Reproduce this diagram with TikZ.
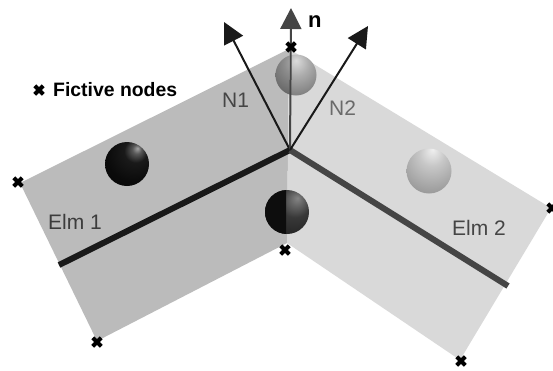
\documentclass[tikz,border=0pt]{standalone}
\usepackage{fontspec}
\setmainfont{Liberation Sans}
\usetikzlibrary{shapes.misc,arrows.meta}
\definecolor{panelL}{gray}{0.735}
\definecolor{panelR}{gray}{0.85}
\definecolor{darkink}{gray}{0.27}
\definecolor{ink}{gray}{0.1}
\pgfdeclareradialshading{balldark}{\pgfpoint{12bp}{18bp}}{color(0bp)=(black!35!white);color(5bp)=(black!65!white);color(13bp)=(black!90!white);color(30bp)=(black!96!white);color(70bp)=(black)}
\pgfdeclareradialshading{ballmid}{\pgfpoint{12bp}{16bp}}{color(0bp)=(black!48!white);color(7bp)=(black!60!white);color(18bp)=(black!78!white);color(40bp)=(black!88!white);color(70bp)=(black!92!white)}
\pgfdeclareradialshading{balllight}{\pgfpoint{4bp}{24bp}}{color(0bp)=(black!6!white);color(14bp)=(black!22!white);color(40bp)=(black!42!white);color(75bp)=(black!68!white)}
\pgfdeclareradialshading{balltop}{\pgfpoint{0bp}{18bp}}{color(0bp)=(black!14!white);color(15bp)=(black!32!white);color(45bp)=(black!60!white);color(72bp)=(black!80!white)}
\pgfdeclareradialshading{balltopdark}{\pgfpoint{0bp}{18bp}}{color(0bp)=(black!30!white);color(15bp)=(black!45!white);color(45bp)=(black!68!white);color(72bp)=(black!85!white)}
\tikzset{
  x=1pt,y=-1pt,
  panel/.style={draw=none},
  beam/.style={line width=6pt,line cap=butt},
  vec/.style={line width=2pt,-{Triangle[length=21pt,width=21pt]}},
  fict/.style={cross out,draw=black,line width=4pt,minimum size=8.5pt,inner sep=0pt,outer sep=0pt,line cap=butt},
  sph/.style={circle,inner sep=0pt,minimum size=#1,outer sep=0pt},
  lab/.style={font=\fontsize{21}{24}\selectfont,inner sep=0pt},
  blab/.style={font=\fontsize{19.4}{22}\selectfont\bfseries,inner sep=0pt}
}
\begin{document}
\begin{tikzpicture}
\useasboundingbox (0,0) rectangle (553,370);
\fill[white] (0,0) rectangle (553,370);
\coordinate (top) at (289,49);
\coordinate (c) at (290,150);
\coordinate (low) at (287,243);
\coordinate (tl) at (20,183);
\coordinate (bl) at (97,341);
\coordinate (tr) at (551,208);
\coordinate (br) at (460,360);
\coordinate (e1) at (59,265);
\coordinate (e2) at (508,286);
\coordinate (tn) at (291,8);
\coordinate (t1) at (224,22);
\coordinate (t2) at (368,26);
% panels
\fill[panelL,panel] (top) -- (tl) -- (bl) -- (low) -- cycle;
\fill[panelR,panel] (top) -- (tr) -- (br) -- (low) -- cycle;
% spheres
\node[sph=44pt,shading=balldark] (s1) at (127,164) {};
\node[sph=45pt,shading=balllight] (s2) at (429,171) {};
\node[sph=41pt,shading=balltop] (s3) at (296,75) {};
\begin{scope}
\clip (250,40) rectangle (289,110);
\node[sph=41pt,shading=balltopdark] at (296,75) {};
\end{scope}
\node[sph=44pt,shading=ballmid] (s4) at (287,212) {};
\begin{scope}
\clip (250,180) rectangle (286,250);
\fill[black!95!white] (287,212) circle[radius=22];
\end{scope}
% beams
\draw[beam,ink] (e1) -- (c);
\draw[beam,darkink] (e2) -- (c);
% normals
\draw[vec,ink] (c) -- (t1);
\draw[vec,darkink] (c) -- (tn);
\draw[vec,ink] (c) -- (t2);
% fictive nodes
\node[fict] (f1) at (291,47) {};
\node[fict] (f2) at (18,182) {};
\node[fict] (f3) at (285,250) {};
\node[fict] (f4) at (97,342) {};
\node[fict] (f5) at (461,361) {};
\node[fict] (f6) at (552,208) {};
\node[fict] (f7) at (39,90) {};
% labels
\node[blab,anchor=base west] (tf) at (53,96) {Fictive nodes};
\node[blab,font=\fontsize{22}{24}\selectfont\bfseries,anchor=base west] (tn2) at (308,27) {n};
\node[lab,text=darkink,anchor=base west] (tN1) at (222,107) {N1};
\node[lab,text=darkink!80!white,anchor=base west] (tN2) at (329,115) {N2};
\node[lab,text=ink!85!white,anchor=base west] (tE1) at (48,229) {Elm 1};
\node[lab,text=darkink,anchor=base west] (tE2) at (452,235) {Elm 2};
\end{tikzpicture}
\end{document}
